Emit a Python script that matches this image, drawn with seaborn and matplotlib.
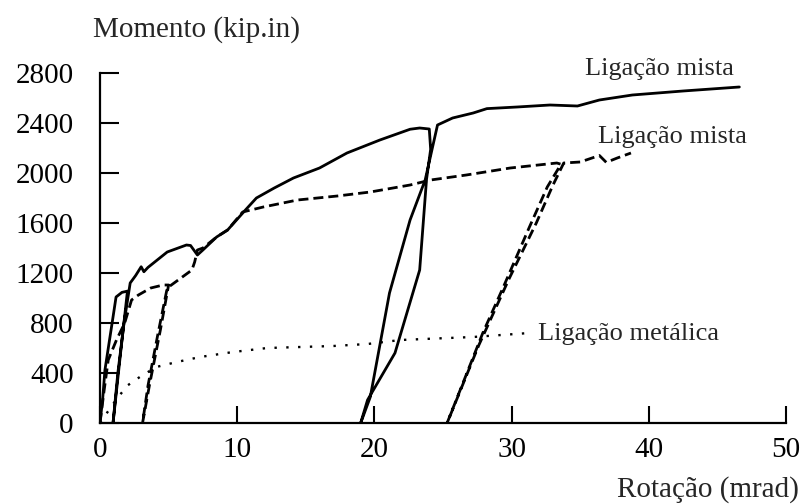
import matplotlib
matplotlib.use("Agg")
import matplotlib.pyplot as plt
import seaborn as sns

sns.set_theme(style="ticks")
plt.rcParams["font.family"] = ["Liberation Serif", "DejaVu Serif"]

# Ligação mista (linha cheia) - rotação (mrad) x momento (kip.in)
rot_mista_a = [0, 0.2, 0.36, 0.95, 1.17, 1.6, 2.0, 1.5, 0.95, 1.3, 1.75, 2.2, 2.6, 3.0,
               3.2, 3.5, 4.9, 6.3, 6.6, 7.1, 7.5, 8.5, 9.3, 10.6, 11.4, 12.7, 14.1,
               16.0, 18.0, 20.4, 22.6, 23.3, 24.0, 24.1, 23.8, 23.3, 21.5, 19.5, 19.0,
               19.7, 21.1, 22.6, 23.7, 24.6, 25.7, 27.2, 28.2, 30.4, 32.8, 34.8, 36.4,
               38.8, 42.5, 46.6]
mom_mista_a = [0, 200, 424, 848, 1008, 1045, 1055, 560, 0, 400, 800, 1120, 1180, 1250,
               1210, 1245, 1368, 1424, 1420, 1344, 1384, 1488, 1544, 1704, 1800, 1880,
               1960, 2040, 2160, 2264, 2350, 2360, 2352, 2190, 1950, 1224, 560, 184, 0,
               208, 1040, 1624, 1944, 2384, 2440, 2480, 2515, 2528, 2544, 2536, 2584,
               2624, 2656, 2688]

# Ligação mista (tracejada)
rot_mista_b = [0, 0.3, 0.6, 1.2, 1.8, 2.3, 2.8, 3.7, 4.6, 5.0, 4.4, 3.6, 3.1, 3.5, 4.2,
               4.9, 6.0, 6.7, 6.9, 7.1, 7.5, 8.5, 9.3, 10.4, 11.9, 14.4, 17.3, 19.7,
               22.6, 24.1, 26.7, 29.9, 33.3, 33.6, 32.6, 31.3, 29.4, 27.9, 25.3, 27.6,
               29.8, 31.8, 33.0, 33.8, 35.0, 36.4, 36.9, 37.7, 38.7]
mom_mista_b = [0, 260, 504, 664, 800, 984, 1024, 1080, 1104, 1104, 744, 300, 0, 300, 700,
               1080, 1168, 1224, 1288, 1384, 1400, 1488, 1544, 1688, 1728, 1784, 1816,
               1848, 1904, 1944, 1984, 2040, 2080, 2070, 1888, 1568, 1088, 720, 0, 620,
               1150, 1600, 1900, 2080, 2088, 2140, 2085, 2120, 2160]

# Ligação metálica (pontilhada)
rot_metalica = [0, 0.5, 1.2, 2.0, 2.9, 4.1, 5.6, 7.3, 9.7, 12.2, 14.6, 17.0, 19.5, 21.9,
                24.5, 27.2, 31.3]
mom_metalica = [0, 80, 190, 300, 368, 448, 488, 528, 568, 600, 608, 616, 632, 664,
                676, 688, 720]

x_ticks = [0, 10, 20, 30, 40, 50]
y_ticks = [0, 400, 800, 1200, 1600, 2000, 2400, 2800]

fig, ax = plt.subplots(figsize=(8.04, 5.04), dpi=100)
fig.subplots_adjust(left=100 / 804, right=786 / 804, bottom=81 / 504, top=431 / 504)

sns.lineplot(x=rot_mista_a, y=mom_mista_a, sort=False, estimator=None,
             color="black", linewidth=2, ax=ax)
sns.lineplot(x=rot_mista_b, y=mom_mista_b, sort=False, estimator=None,
             color="black", linewidth=2, linestyle=(0, (3.6, 1.8)), ax=ax)
sns.lineplot(x=rot_metalica, y=mom_metalica, sort=False, estimator=None,
             color="black", linewidth=1.7, linestyle=(0, (1, 4)), ax=ax)

ax.set_xlim(0, 50)
ax.set_ylim(0, 2800)
ax.set_xticks(x_ticks)
ax.set_yticks(y_ticks)
ax.set_xlabel("")
ax.set_ylabel("")
sns.despine(ax=ax)
for side in ["left", "bottom"]:
    ax.spines[side].set_linewidth(1.6)
    ax.spines[side].set_color("black")

ax.tick_params(axis="y", direction="in", length=14, width=1.5, pad=19,
               labelsize=21, colors="black")
ax.tick_params(axis="x", direction="in", length=12, width=1.5, pad=10,
               labelsize=21, colors="black")

# rótulos das curvas
ax.text(35.35, 2784, "Ligação mista", fontsize=19, ha="left", va="baseline", clip_on=False)
ax.text(36.3, 2240, "Ligação mista", fontsize=19, ha="left", va="baseline")
ax.text(31.9, 664, "Ligação metálica", fontsize=19, ha="left", va="baseline")

# títulos dos eixos
fig.text(93 / 804, 1 - 37 / 504, "Momento (kip.in)", fontsize=21, ha="left", va="baseline")
fig.text(799 / 804, 1 - 497 / 504, "Rotação (mrad)", fontsize=21, ha="right", va="baseline")

fig.savefig("out.png", dpi=100)
